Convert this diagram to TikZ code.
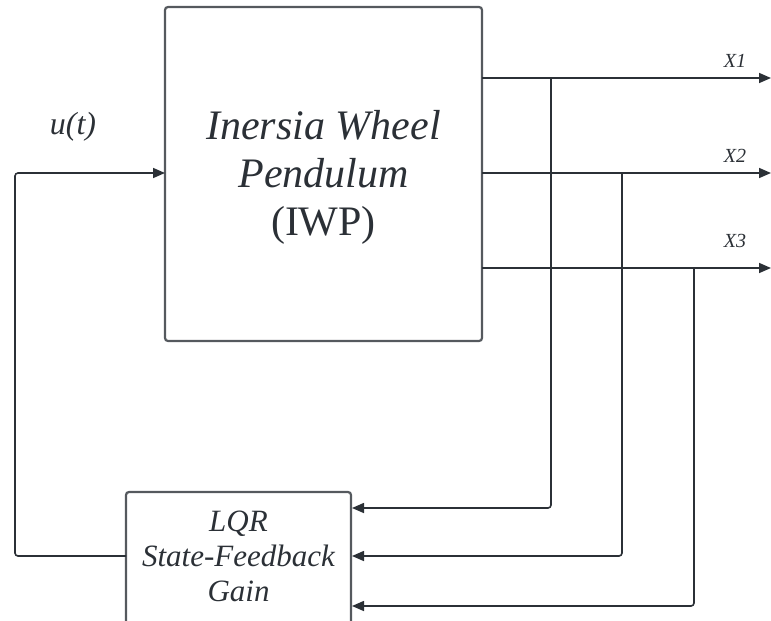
\documentclass[tikz,border=0pt]{standalone}
\usepackage{fontspec}
\setmainfont{Liberation Serif}
\usetikzlibrary{arrows.meta}
\definecolor{ln}{HTML}{2B3036}
\tikzset{
  blk/.style={draw=ln!80!white, line width=2.2pt, rounded corners=3pt, inner sep=0pt},
  wire/.style={draw=ln, line width=1.6pt},
  arr/.style={wire, -{Triangle[length=12pt,width=10pt]}},
  lbl/.style={text=ln, font=\itshape},
}
\begin{document}
\begin{tikzpicture}[x=1pt,y=-1pt]
\useasboundingbox (0,0) rectangle (771,621);
% blocks
\node[blk, minimum width=317pt, minimum height=334pt] (iwp) at (323.5,174) {};
\node[text=ln, align=center, font=\fontsize{42}{48}\selectfont] at (323.5,177)
  {\textit{Inersia Wheel}\\\textit{Pendulum}\\(IWP)};
\node[blk, minimum width=225pt, minimum height=134pt] (lqr) at (238.5,559) {};
\node[text=ln, align=center, font=\itshape\fontsize{31}{35}\selectfont] at (238.5,556)
  {LQR\\State-Feedback\\Gain};
% coordinates
\coordinate (o1) at (482,78);
\coordinate (o2) at (482,173);
\coordinate (o3) at (482,268);
\coordinate (e1) at (771,78);
\coordinate (e2) at (771,173);
\coordinate (e3) at (771,268);
\coordinate (t1) at (551,78);
\coordinate (t2) at (622,173);
\coordinate (t3) at (694,268);
\coordinate (in) at (165,173);
\coordinate (f1) at (352,508);
\coordinate (f2) at (352,556);
\coordinate (f3) at (352,606);
% outputs
\draw[arr] (o1) -- (e1);
\draw[arr] (o2) -- (e2);
\draw[arr] (o3) -- (e3);
% feedback taps
\draw[arr, rounded corners=3pt] (t1) |- (f1);
\draw[arr, rounded corners=3pt] (t2) |- (f2);
\draw[arr, rounded corners=3pt] (t3) |- (f3);
% control input
\draw[arr, rounded corners=3pt] (126,556) -- (15,556) -- (15,173) -- (in);
% labels
\node[lbl, font=\itshape\fontsize{32}{34}\selectfont] at (73,127) {u(t)};
\node[lbl, font=\itshape\fontsize{20}{22}\selectfont] at (735,61) {X1};
\node[lbl, font=\itshape\fontsize{20}{22}\selectfont] at (735,156) {X2};
\node[lbl, font=\itshape\fontsize{20}{22}\selectfont] at (735,241) {X3};
\end{tikzpicture}
\end{document}
